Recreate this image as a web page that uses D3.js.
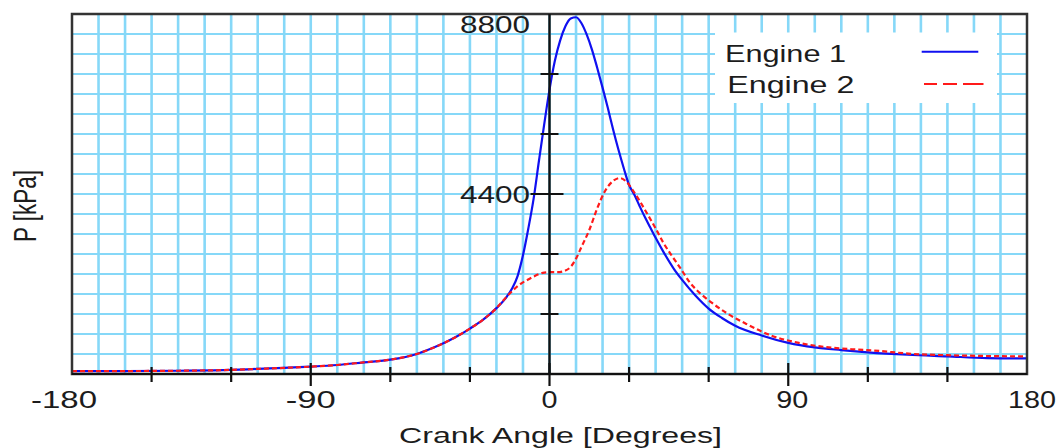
<!DOCTYPE html>
<html><head><meta charset="utf-8">
<script src="https://cdn.jsdelivr.net/npm/d3@7/dist/d3.min.js"></script>
<style>
html,body{margin:0;padding:0;background:#fff;overflow:hidden}
svg{display:block}
text{font-family:"Liberation Sans",Arial,sans-serif;fill:#1c1c1c}
</style>
</head><body>
<svg id="c" width="1064" height="448"></svg>
<script>
// ---------------- data ----------------
const engine1Angle = [-180,-160,-140,-120,-110,-100,-90,-80,-70,-60,-50,-45,-40,-35,-30,-25,-20,-16,
  -14,-12,-10,-8,-6,-4,-2,0,2,4,6,8,10,12,14,16,18,20,22,24,26,28,30,32,34,36,38,40,43,47,50,55,60,65,70,80,90,100,110,120,135,150,165,180];
const engine1P = [70,72,80,100,125,150,180,220,285,350,490,610,750,915,1110,1330,1610,1900,
  2100,2400,2900,3550,4280,5200,6100,6950,7650,8150,8500,8690,8720,8580,8300,7930,7480,7000,6500,5970,5480,5030,4620,4380,4100,3830,3580,3330,2980,2560,2300,1920,1600,1370,1180,940,760,650,585,530,470,430,390,380];

const engine2Angle = [-180,-160,-140,-120,-110,-100,-90,-80,-70,-60,-50,-45,-40,-35,-30,-25,-20,-16,
  -14,-12,-10,-8,-6,-4,-2,0,3,6,8,10,12,15,18,21,24,26.5,29,31,34,37,40,43,46,49,53,57,61,67,74,84,94,104,114,122,137,150,165,180];
const engine2P = [70,72,80,100,125,150,180,220,285,350,490,610,750,915,1110,1330,1610,1900,
  2030,2150,2240,2310,2380,2440,2480,2490,2490,2530,2620,2820,3100,3520,4050,4480,4720,4790,4700,4530,4230,3900,3560,3200,2900,2620,2230,1960,1750,1480,1230,930,760,660,605,575,490,460,440,430];

const xDomain = [-180, 180];
const yDomain = [0, 8800];
const xTickLabels = [-180, -90, 0, 90, 180];
const xMinorTicks = [-150, -120, -60, -30, 30, 60, 120, 150];
const yTickLabels = [4400, 8800];
const yMinorTicks = [8800/6, 2*8800/6, 4*8800/6, 5*8800/6];
const xGridStep = 10;
const yGridCount = 18;
const seriesNames = ["Engine 1", "Engine 2"];
const xTitle = "Crank Angle [Degrees]";
const yTitle = "P [kPa]";

// ---------------- layout ----------------
const L = 72, R = 1027, T = 14, B = 374;
const svg = d3.select("#c");
const x = d3.scaleLinear().domain(xDomain).range([L, R]);
const y = d3.scaleLinear().domain(yDomain).range([B, T]);

svg.append("rect").attr("width",1064).attr("height",448).attr("fill","#fff");

// grid
const gridColor = "#86d8f8";
const g = svg.append("g");
g.selectAll("line.v").data(d3.range(xDomain[0]+xGridStep, xDomain[1], xGridStep)).join("line")
  .attr("x1", d=>x(d)).attr("x2", d=>x(d)).attr("y1", T).attr("y2", B)
  .attr("stroke", gridColor).attr("stroke-width", 2.6);
g.selectAll("line.h").data(d3.range(1, yGridCount).map(i => yDomain[1]*i/yGridCount)).join("line")
  .attr("x1", L).attr("x2", R).attr("y1", d=>y(d)).attr("y2", d=>y(d))
  .attr("stroke", gridColor).attr("stroke-width", 2);

// legend box
svg.append("rect").attr("x",715).attr("y",32.5).attr("width",282).attr("height",70.5).attr("fill","#fff");

// curves
svg.append("clipPath").attr("id","clip").append("rect").attr("x",L).attr("y",T).attr("width",R-L).attr("height",B-T);
const line = d3.line().x(d=>x(d[0])).y(d=>y(d[1])).curve(d3.curveMonotoneX);
const s1 = engine1Angle.map((a,i)=>[a, engine1P[i]]);
const s2 = engine2Angle.map((a,i)=>[a, engine2P[i]]);
const curves = svg.append("g").attr("clip-path","url(#clip)");
curves.append("path").attr("d", line(s1)).attr("fill","none").attr("stroke","#1010f0").attr("stroke-width",2.2);
curves.append("path").attr("d", line(s2)).attr("fill","none").attr("stroke","#ff1a1a").attr("stroke-width",2.2)
  .attr("stroke-dasharray","5,3");

// frame
svg.append("rect").attr("x",L).attr("y",T).attr("width",R-L).attr("height",B-T)
  .attr("fill","none").attr("stroke","#333").attr("stroke-width",2.5);
// zero axis (vertical) and x axis
svg.append("line").attr("x1",x(0)).attr("x2",x(0)).attr("y1",T).attr("y2",B).attr("stroke","#111").attr("stroke-width",2.4);
svg.append("line").attr("x1",L).attr("x2",R).attr("y1",B).attr("y2",B).attr("stroke","#111").attr("stroke-width",2.2);

// x ticks
svg.selectAll("line.xm").data(xMinorTicks).join("line")
  .attr("x1",d=>x(d)).attr("x2",d=>x(d)).attr("y1",B-7).attr("y2",B+8).attr("stroke","#111").attr("stroke-width",2.2);
svg.selectAll("line.xM").data(xTickLabels.filter(d=>d>xDomain[0]&&d<xDomain[1])).join("line")
  .attr("x1",d=>x(d)).attr("x2",d=>x(d)).attr("y1",B-11).attr("y2",B+12).attr("stroke","#111").attr("stroke-width",2.2);
// y ticks on zero axis
svg.selectAll("line.ym").data(yMinorTicks).join("line")
  .attr("x1",x(0)-9).attr("x2",x(0)+9).attr("y1",d=>y(d)).attr("y2",d=>y(d)).attr("stroke","#111").attr("stroke-width",2);
svg.selectAll("line.yM").data(yTickLabels.filter(d=>d<yDomain[1])).join("line")
  .attr("x1",x(0)-19).attr("x2",x(0)+14).attr("y1",d=>y(d)).attr("y2",d=>y(d)).attr("stroke","#111").attr("stroke-width",2);

// text helper
function txt(str, tx, ty, size, anchor, len, rot) {
  const t = svg.append("text").text(str).attr("font-size", size).attr("text-anchor", anchor);
  if (rot) t.attr("transform", `translate(${tx},${ty}) rotate(${rot})`);
  else t.attr("x", tx).attr("y", ty);
  if (len) t.attr("textLength", len).attr("lengthAdjust","spacingAndGlyphs");
  return t;
}

// x tick labels
const xNudge = {"-180": -8, "90": 4, "180": 5};
xTickLabels.forEach(v => {
  const s = String(v);
  txt(s, x(v) + (xNudge[s]||0), B + 34.3, 23, "middle", s.length*16 + (v<0?2:0));
});
// y tick labels
yTickLabels.forEach(v => {
  const s = String(v);
  txt(s, 530, Math.max(y(v)+8.7, T+18.7), 23, "end", s.length*17.5);
});

// titles
txt(xTitle, 560.5, 442.7, 22.5, "middle", 323);
txt(yTitle, 36, 206, 31, "middle", 72, -90);

// legend
txt(seriesNames[0], 725, 61.7, 24, "start", 121);
txt(seriesNames[1], 727.3, 92.7, 24, "start", 127);
svg.append("line").attr("x1",921.7).attr("x2",978.3).attr("y1",51.7).attr("y2",51.7).attr("stroke","#1010f0").attr("stroke-width",2);
svg.append("line").attr("x1",924).attr("x2",983.5).attr("y1",84).attr("y2",84).attr("stroke","#ff1a1a").attr("stroke-width",2)
  .attr("stroke-dasharray","13,6,14,6,21");
</script>
</body></html>
